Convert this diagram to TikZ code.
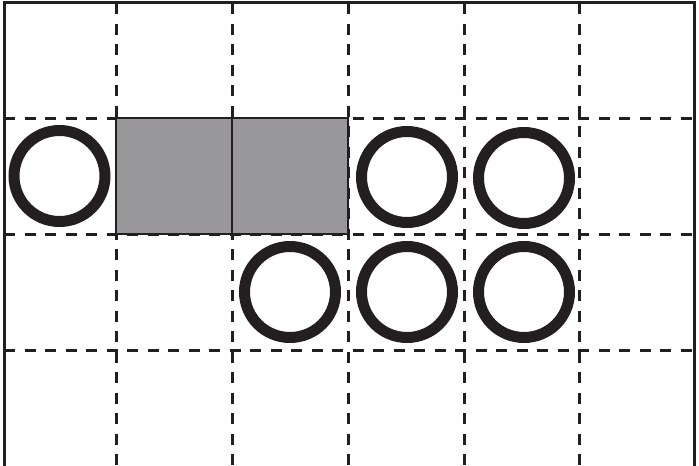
\documentclass[tikz,border=0pt]{standalone}
\definecolor{cellgrey}{RGB}{152,152,154}
\definecolor{ink}{RGB}{35,31,32}
\tikzset{
  gridline/.style={ink, line width=3pt, dash pattern=on 11pt off 9.5pt},
  borderline/.style={ink, line width=3pt},
  greycell/.style={fill=cellgrey, draw=ink, line width=2.2pt},
  ring/.style={draw=ink, line width=11pt, circle, minimum size=91pt, inner sep=0pt}
}
\begin{document}
\begin{tikzpicture}[x=1pt,y=-1pt]
\useasboundingbox (0,0) rectangle (699,466);
% dashed grid
\foreach \x in {116,232,348,464,579}
  \draw[gridline] (\x,3) -- (\x,466);
\foreach \y in {118,234,350}
  \draw[gridline] (4,\y) -- (694,\y);
% grey cells
\draw[greycell] (116,118) rectangle (232,234);
\draw[greycell] (232,118) rectangle (348,234);
% border
\draw[borderline] (4,466) -- (4,2.5) -- (694.5,2.5) -- (694.5,466);
% rings
\node[ring] (r1) at (59.5,176) {};
\node[ring] (r2) at (407,177) {};
\node[ring] (r3) at (524,178) {};
\node[ring] (r4) at (290,292) {};
\node[ring] (r5) at (407,292) {};
\node[ring] (r6) at (524,292) {};
\end{tikzpicture}
\end{document}
